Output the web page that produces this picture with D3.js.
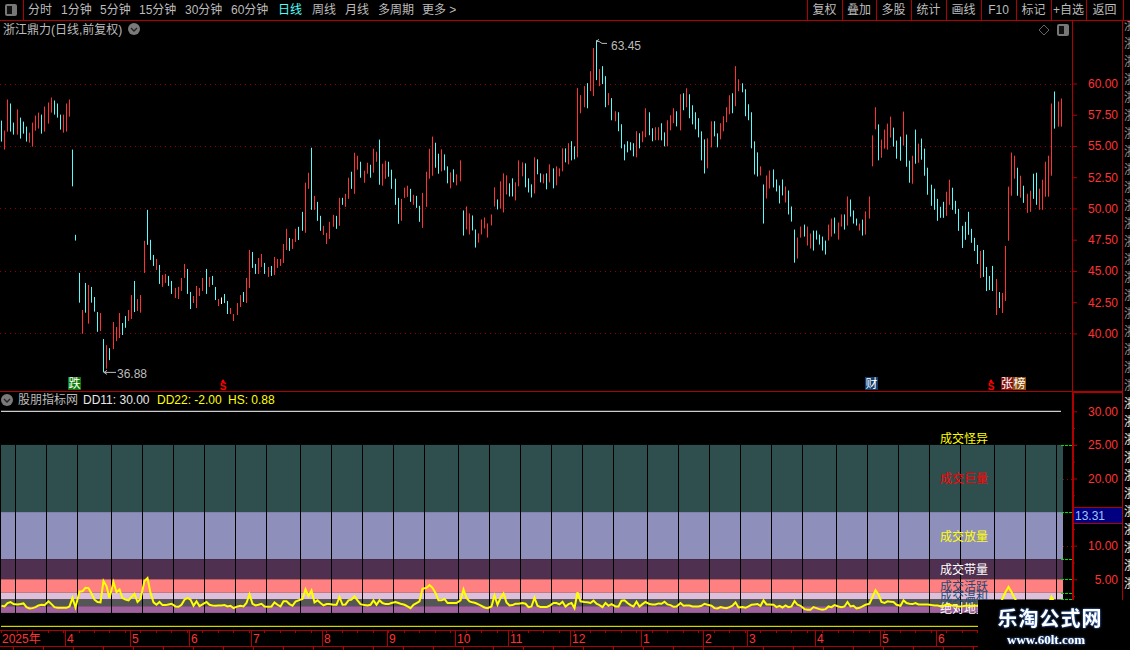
<!DOCTYPE html>
<html>
<head>
<meta charset="utf-8">
<title>浙江鼎力</title>
<script src="https://cdn.jsdelivr.net/npm/d3@7"></script>
<style>
    html, body { margin: 0; padding: 0; background: #000; overflow: hidden; }
    svg { display: block; }
    text { font-family: "Liberation Sans", "Noto Sans CJK SC", sans-serif; font-size: 12px; }
</style>
</head>
<body>
<div id="chart"></div>
<script>
// Bar highs (10 per row)
const barHigh = [
    57.03, 56.23, 58.72, 58.40, 56.87, 57.92, 57.27, 56.95, 56.55, 56.07,
    56.87, 57.43, 57.67, 57.51, 58.16, 58.48, 58.88, 58.64, 58.40, 57.51,
    57.51, 58.40, 58.72, 54.71, 47.89, 44.84, 41.87, 44.04, 43.88, 43.72,
    42.91, 41.71, 41.63, 39.55, 39.06, 38.82, 40.91, 40.51, 41.63, 40.83,
    41.39, 41.87, 43.07, 44.20, 42.75, 43.07, 47.41, 49.89, 47.49, 46.28,
    45.96, 45.48, 44.68, 44.76, 44.60, 44.20, 43.64, 43.72, 44.44, 45.56,
    45.16, 43.32, 42.99, 43.80, 43.64, 44.44, 45.16, 44.52, 44.60, 43.72,
    42.75, 42.88, 43.15, 42.59, 42.03, 41.55, 42.43, 43.07, 43.31, 44.44,
    46.68, 46.52, 45.56, 46.04, 46.36, 45.64, 45.32, 45.40, 46.12, 45.96,
    45.96, 47.16, 48.37, 47.64, 47.56, 48.37, 48.53, 49.73, 52.06, 52.86,
    54.86, 51.01, 50.53, 49.41, 48.61, 48.05, 48.93, 49.49, 49.41, 50.85,
    50.85, 51.17, 52.46, 52.94, 54.46, 54.22, 53.74, 53.02, 53.66, 53.50,
    54.78, 54.54, 55.51, 53.58, 53.82, 53.74, 53.10, 52.38, 50.85, 50.77,
    51.66, 51.82, 51.57, 51.09, 51.01, 50.21, 51.25, 52.94, 54.78, 55.75,
    55.26, 54.38, 54.73, 54.33, 53.37, 52.89, 53.13, 52.73, 53.85, 49.84,
    50.16, 49.60, 49.44, 48.32, 48.00, 49.12, 49.28, 48.80, 49.52, 51.69,
    50.72, 52.17, 52.81, 52.65, 52.01, 52.41, 52.09, 53.85, 53.69, 53.61,
    52.41, 51.93, 54.09, 53.93, 52.81, 52.73, 52.81, 53.53, 53.21, 53.37,
    53.21, 54.81, 54.81, 55.22, 55.38, 54.97, 59.63, 59.07, 59.79, 60.03,
    60.99, 62.84, 63.45, 61.15, 61.39, 60.59, 59.23, 58.83, 57.78, 57.70,
    56.74, 55.13, 55.38, 55.30, 55.22, 56.18, 56.02, 56.18, 58.02, 57.70,
    56.42, 56.50, 56.50, 56.82, 56.09, 57.06, 57.46, 58.02, 57.78, 59.14,
    59.22, 59.62, 59.14, 58.26, 57.70, 57.22, 56.17, 55.53, 55.61, 56.98,
    56.98, 56.01, 56.82, 57.38, 58.10, 59.06, 59.22, 61.39, 60.34, 60.02,
    59.54, 58.34, 57.70, 55.37, 54.49, 53.37, 51.92, 52.64, 53.04, 53.12,
    52.32, 51.84, 52.32, 51.76, 51.44, 50.16, 48.31, 47.67, 48.55, 48.71,
    48.55, 47.99, 48.23, 48.23, 47.91, 47.75, 47.43, 48.71, 49.19, 49.27,
    48.87, 49.52, 49.52, 50.96, 50.72, 49.84, 49.19, 48.79, 49.11, 49.76,
    50.96, 55.85, 58.10, 56.73, 55.51, 56.31, 56.79, 57.35, 56.47, 55.43,
    55.75, 57.75, 55.91, 53.82, 54.22, 56.31, 55.19, 55.59, 54.79, 53.26,
    51.90, 51.58, 50.77, 50.13, 50.53, 51.34, 52.30, 51.66, 50.61, 49.97,
    48.61, 48.93, 49.73, 48.37, 47.65, 47.08, 46.60, 46.68, 45.32, 44.60,
    45.40, 44.36, 43.31, 43.23, 47.00, 51.74, 54.47, 54.22, 53.26, 52.62,
    51.82, 51.18, 51.42, 52.78, 52.86, 51.58, 52.30, 53.74, 54.22, 58.40,
    59.36, 58.56, 58.80
];
// Bar lows
const barLow = [
    55.35, 54.71, 56.15, 56.15, 55.91, 55.91, 55.59, 55.99, 55.35, 55.27,
    54.95, 56.23, 56.39, 55.99, 56.15, 56.79, 57.67, 57.51, 57.27, 56.31,
    56.07, 56.15, 57.35, 51.77, 47.43, 42.46, 39.97, 41.66, 40.78, 42.46,
    41.74, 40.13, 40.19, 36.88, 37.17, 37.86, 38.74, 39.38, 39.63, 39.87,
    40.45, 40.99, 41.15, 41.71, 41.79, 41.66, 44.84, 47.09, 45.88, 45.40,
    45.08, 43.96, 43.72, 44.04, 43.80, 43.16, 42.83, 42.75, 43.40, 44.44,
    43.16, 41.95, 42.43, 42.03, 42.99, 43.40, 43.16, 43.72, 43.88, 42.67,
    42.19, 42.35, 42.43, 41.55, 41.55, 40.99, 41.47, 42.11, 42.51, 42.43,
    43.63, 45.24, 44.76, 44.76, 45.32, 44.76, 44.52, 44.60, 44.68, 45.24,
    45.40, 45.64, 46.68, 46.60, 46.76, 47.32, 47.48, 48.21, 48.05, 51.57,
    49.89, 49.89, 49.01, 48.21, 47.88, 47.16, 47.56, 48.53, 48.37, 48.61,
    50.29, 50.13, 50.77, 51.57, 51.17, 53.10, 52.46, 52.06, 52.78, 52.46,
    52.86, 53.74, 51.90, 51.82, 52.38, 52.54, 51.57, 50.29, 48.77, 49.01,
    50.85, 50.93, 50.53, 50.29, 50.05, 48.93, 48.45, 50.13, 52.38, 52.62,
    53.26, 52.78, 52.97, 53.05, 52.01, 51.61, 52.09, 51.85, 52.17, 47.83,
    48.32, 47.92, 48.24, 46.87, 47.27, 47.92, 48.40, 47.67, 48.64, 50.16,
    49.92, 50.00, 49.68, 51.12, 50.96, 50.96, 50.64, 51.77, 52.57, 51.69,
    51.28, 50.88, 51.20, 52.73, 52.09, 52.01, 51.53, 52.09, 51.61, 51.85,
    52.57, 52.97, 53.69, 53.53, 53.85, 53.93, 54.09, 57.62, 58.10, 58.02,
    59.39, 58.99, 60.27, 59.79, 59.95, 58.10, 58.26, 57.06, 56.98, 56.18,
    54.81, 53.85, 54.49, 54.65, 54.17, 54.09, 54.81, 55.30, 55.70, 55.86,
    55.38, 55.46, 55.46, 55.45, 54.97, 54.97, 56.25, 56.82, 56.57, 56.25,
    57.86, 58.10, 57.22, 56.73, 56.33, 55.69, 53.85, 52.80, 53.21, 54.89,
    55.77, 54.89, 55.53, 56.17, 56.90, 57.54, 57.62, 58.18, 59.38, 59.30,
    57.38, 57.06, 54.81, 52.72, 52.56, 52.64, 48.79, 50.80, 51.60, 51.68,
    51.36, 50.40, 51.04, 50.48, 49.52, 48.95, 45.66, 45.99, 47.67, 47.75,
    47.03, 46.79, 46.63, 47.51, 47.11, 46.63, 46.31, 47.43, 47.75, 47.99,
    47.51, 48.55, 48.31, 48.63, 49.35, 48.79, 48.63, 48.23, 47.83, 47.91,
    49.19, 53.37, 56.33, 53.85, 54.06, 54.79, 54.71, 55.67, 54.95, 53.98,
    53.82, 55.03, 53.34, 52.06, 51.98, 53.58, 53.66, 53.90, 52.62, 51.10,
    50.21, 49.89, 49.01, 49.25, 49.25, 49.41, 50.29, 49.89, 49.57, 48.21,
    46.84, 47.49, 47.89, 47.25, 46.60, 45.56, 44.44, 44.52, 43.39, 43.47,
    43.39, 41.47, 42.03, 41.63, 42.59, 47.41, 51.02, 52.38, 51.02, 50.86,
    50.45, 49.65, 49.73, 50.77, 50.29, 49.89, 49.89, 50.94, 50.94, 52.62,
    56.39, 56.55, 56.55
];
// r = up, c = down, w = flat
const barDir = [
    'crrccrcccr', 'rrrcrrrccc', 'rrrcccrcrc', 'ccrcrcrrrc', 'crrcrrrccc', 'rcrrccrrrr', 'ccrrrrcrcc',
    'rwccrrrrcr', 'rccrrcrcrr', 'rrrcrrccrr', 'crccrrrrcr', 'crrcrrcrrc', 'rrcrrccccr', 'rrcrccrrrr',
    'ccrccrcrrc', 'rrccrrrrrr', 'crrrccrrrc', 'ccrccrcrcr', 'rrcrccrrrc', 'rrcrccrcrc', 'cccccrcrrc',
    'crrccrrrcr', 'crccccccrr', 'ccrrrrcrrc', 'cccccrcrrc', 'cccrcccrrc', 'rrcccccrrc', 'rrcrcccrcr',
    'rrrcrrrrcc', 'crccrcrccc', 'cccccrrccc', 'ccccccrccc', 'crcrrrrrcr', 'crrccrrrrr', 'crr'
].join('');

// HS line
const hsValues = [
    1.06, 0.96, 1.47, 1.62, 1.31, 1.26, 1.31, 1.41, 0.86, 0.66,
    0.71, 0.86, 1.11, 1.21, 1.16, 1.72, 1.31, 0.86, 0.76, 0.76,
    0.76, 0.76, 0.96, 2.22, 0.81, 3.18, 3.23, 3.74, 3.69, 2.88,
    1.97, 1.62, 1.57, 4.75, 3.99, 2.22, 4.60, 3.08, 3.49, 2.22,
    1.97, 1.87, 2.37, 2.83, 1.62, 2.07, 4.75, 5.20, 2.98, 1.57,
    1.21, 1.62, 1.16, 1.16, 1.26, 1.36, 0.96, 0.91, 1.21, 1.97,
    2.22, 1.97, 1.06, 1.72, 1.01, 1.26, 1.62, 1.21, 1.11, 1.06,
    1.11, 1.11, 1.16, 0.96, 1.06, 0.71, 0.96, 1.06, 0.96, 1.47,
    2.78, 1.36, 1.11, 1.21, 1.36, 0.96, 0.91, 0.96, 1.57, 1.21,
    0.96, 1.72, 1.72, 1.31, 1.06, 1.67, 1.87, 2.07, 3.49, 2.47,
    3.33, 1.57, 1.87, 1.47, 1.11, 1.31, 1.31, 1.21, 1.21, 2.37,
    1.21, 1.26, 1.87, 1.97, 2.47, 1.87, 1.31, 1.16, 1.11, 1.21,
    1.87, 1.21, 1.87, 1.47, 1.31, 1.31, 1.47, 1.62, 1.47, 1.31,
    1.21, 0.96, 0.71, 1.21, 1.47, 1.72, 3.59, 3.74, 4.14, 3.74,
    2.98, 1.87, 1.87, 2.07, 1.47, 1.47, 1.47, 1.47, 1.87, 3.49,
    2.22, 1.72, 1.57, 1.47, 1.26, 1.06, 0.81, 0.71, 0.96, 2.58,
    1.21, 2.22, 2.88, 1.57, 1.11, 1.16, 1.36, 1.36, 1.47, 1.36,
    0.86, 0.96, 2.27, 1.06, 0.86, 0.86, 0.86, 1.06, 1.47, 1.47,
    1.26, 1.67, 0.96, 1.31, 1.47, 0.71, 3.08, 1.72, 1.62, 1.57,
    1.47, 1.82, 1.36, 1.16, 0.86, 1.47, 1.06, 1.31, 0.96, 0.96,
    1.82, 1.87, 1.47, 1.16, 0.96, 1.67, 0.96, 1.31, 1.62, 1.31,
    1.26, 1.26, 1.41, 1.36, 1.67, 1.26, 1.16, 0.91, 0.96, 1.47,
    1.06, 1.11, 1.11, 0.96, 0.96, 0.96, 1.06, 1.36, 1.21, 1.06,
    0.71, 0.66, 0.86, 0.76, 0.71, 0.86, 1.06, 1.57, 0.81, 0.86,
    0.76, 0.96, 1.21, 1.26, 1.31, 1.06, 1.87, 1.26, 1.26, 1.21,
    0.86, 1.06, 0.81, 1.11, 0.86, 0.96, 1.77, 1.21, 1.06, 0.56,
    0.46, 0.46, 0.86, 0.71, 0.56, 0.46, 0.56, 0.96, 0.86, 1.16,
    0.96, 0.86, 0.96, 1.62, 0.96, 1.06, 0.66, 0.76, 0.96, 1.21,
    1.36, 2.37, 3.38, 2.73, 1.62, 1.47, 1.72, 1.67, 1.62, 1.21,
    1.06, 1.87, 1.47, 1.36, 1.31, 1.47, 1.26, 1.26, 1.26, 1.26,
    1.16, 1.11, 1.11, 1.01, 1.06, 1.21, 1.21, 1.06, 1.06, 0.96,
    1.00, 1.06, 1.11, 1.00, 1.06, 1.11, 1.20, 1.00, 1.10, 1.30,
    1.20, 1.20, 1.30, 2.10, 3.10, 3.85, 3.10, 2.20, 1.50, 1.20,
    1.10, 1.00, 1.10, 1.20, 1.00, 1.10, 1.20, 1.10, 1.40, 2.40,
    1.50, 1.10, 0.88
];

// bars after which the chart leaves its wider gap (and draws a black line in the bands)
const gapAfter = [4, 14, 24, 35, 45, 55, 65, 75, 85, 96, 106, 116, 126, 136, 147, 157, 167, 177, 187, 197, 208, 218, 228, 238, 248, 258, 269, 279, 289, 299, 309, 320, 330, 340];

const priceTicks = [60, 55, 50, 45, 40];
const priceLabels = [60, 57.5, 55, 52.5, 50, 47.5, 45, 42.5, 40];
const hsTicks = [30, 25, 20, 10, 5];
const hsMinorTicks = [27.5, 22.5, 17.5, 12.5, 7.5, 2.5];

const bandLevels = [25, 15, 8, 5, 3, 2, 1, 0];
const bandColors = ['#2f4f4f', '#8f8fbc', '#503050', '#ff8080', '#dbbfdb', '#555555', '#a0629c'];
const bandNames = ['成交怪异', '成交巨量', '成交放量', '成交带量', '成交活跃', '成交温和', '绝对地量'];
const bandNameColors = ['#ffff00', '#ff0000', '#ffff00', '#ffffff', '#1c4a78', '#1c4a78', '#ffffff'];
const bandNameValues = [25.28, 19.33, 10.7, 5.78, 3.26, 1.77, 0];

const monthBars = [21, 42, 61, 81, 104, 125, 147, 164, 184, 207, 227, 241, 263, 284, 302];
const monthNames = ['4', '5', '6', '7', '8', '9', '10', '11', '12', '1', '2', '3', '4', '5', '6'];

const leftButtons = ['分时', '1分钟', '5分钟', '15分钟', '30分钟', '60分钟', '日线', '周线', '月线', '多周期', '更多 >'];
const leftButtonX = [28, 61, 100, 139, 185, 231, 278, 312, 345, 378, 422];
const rightButtons = ['复权', '叠加', '多股', '统计', '画线', 'F10', '标记', '+自选', '返回'];
const rightEdges = [807, 842, 876, 911, 946, 981, 1016, 1051, 1086, 1123];

const W = 1130, H = 650;
const red = '#ff3232', cyan = '#54fcfc', line = '#b00000', grey = '#bcbcbc';

const svg = d3.select('#chart').append('svg').attr('width', W).attr('height', H)
    .style('background', '#000');

// one slot per bar, each wide gap adds a third of a slot
const slot = i => i + gapAfter.filter(g => g < i).length / 3;
const x = d3.scaleLinear().domain([0, slot(barHigh.length - 1)]).range([1.33, 1061.33]);
const barX = i => Math.floor(x(slot(i)));

const yPrice = d3.scaleLinear().domain([40, 60]).range([333.4, 83.5]);
const yHs = d3.scaleLinear().domain([0, 30]).range([612.9, 411.3]);

// Toolbar
const toolbar = svg.append('g');
toolbar.append('line').attr('x1', 0).attr('x2', W).attr('y1', 20.5).attr('y2', 20.5).attr('stroke', line);
toolbar.append('line').attr('x1', 23.5).attr('x2', 23.5).attr('y1', 0).attr('y2', 20).attr('stroke', line);
toolbar.selectAll('text.left').data(leftButtons).enter().append('text')
    .attr('x', (d, i) => leftButtonX[i])
    .attr('y', 14)
    .attr('fill', d => d === '日线' ? cyan : grey)
    .text(d => d);
toolbar.selectAll('line.edge').data(rightEdges).enter().append('line')
    .attr('x1', d => d + 0.5).attr('x2', d => d + 0.5)
    .attr('y1', 0).attr('y2', 20)
    .attr('stroke', line);
toolbar.selectAll('text.right').data(rightButtons).enter().append('text')
    .attr('x', (d, i) => (rightEdges[i] + rightEdges[i + 1]) / 2)
    .attr('y', 14)
    .attr('text-anchor', 'middle')
    .attr('fill', grey)
    .text(d => d);

function panelIcon(px, py) {
    const g = svg.append('g').attr('transform', `translate(${px},${py})`);
    g.append('rect').attr('x', -6).attr('y', -6).attr('width', 12).attr('height', 12).attr('rx', 2)
        .attr('fill', '#777');
    g.append('rect').attr('x', -4).attr('y', -4).attr('width', 5).attr('height', 8).attr('fill', '#111');
}
function roundIcon(px, py) {
    const g = svg.append('g').attr('transform', `translate(${px},${py})`);
    g.append('circle').attr('r', 6).attr('fill', '#7a7a7a');
    g.append('path').attr('d', 'M-3,-1 L0,2 L3,-1').attr('fill', 'none').attr('stroke', '#222').attr('stroke-width', 1.3);
}
panelIcon(11, 10);
panelIcon(1063, 30);
roundIcon(134, 29);
roundIcon(7, 400);
svg.append('path').attr('d', 'M1044,25 L1049,30 L1044,35 L1039,30 Z').attr('fill', 'none').attr('stroke', '#666');
svg.append('text').attr('x', 3).attr('y', 34).attr('fill', grey).text('浙江鼎力(日线,前复权)');

// Price grid
svg.append('g').selectAll('line').data(priceTicks).enter().append('line')
    .attr('x1', 0).attr('x2', 1072)
    .attr('y1', d => Math.round(yPrice(d)) + 0.5).attr('y2', d => Math.round(yPrice(d)) + 0.5)
    .attr('stroke', '#900000')
    .attr('stroke-dasharray', '1,4');

// Price bars
svg.append('g').selectAll('rect').data(barHigh).enter().append('rect')
    .attr('x', (d, i) => barX(i))
    .attr('width', 1)
    .attr('y', d => yPrice(d))
    .attr('height', (d, i) => yPrice(barLow[i]) - yPrice(d))
    .attr('fill', (d, i) => barDir[i] === 'r' ? red : barDir[i] === 'c' ? cyan : '#ffffff');

// High and low notes
const notes = svg.append('g').attr('fill', grey);
const hiBar = barHigh.indexOf(d3.max(barHigh));
const loBar = barLow.indexOf(d3.min(barLow));
notes.append('path')
    .attr('d', `M${barX(hiBar)},${yPrice(d3.max(barHigh)) + 1} l3,-2 M${barX(hiBar)},${yPrice(d3.max(barHigh)) + 1} h3 l3,2 h5`)
    .attr('fill', 'none').attr('stroke', grey);
notes.append('text').attr('x', 611).attr('y', 50).text(d3.format('.2f')(d3.max(barHigh)));
notes.append('path')
    .attr('d', `M${barX(loBar) + 1},${yPrice(d3.min(barLow))} h12 M${barX(loBar) + 1},${yPrice(d3.min(barLow))} l3,-2 M${barX(loBar) + 1},${yPrice(d3.min(barLow))} l3,2`)
    .attr('fill', 'none').attr('stroke', grey);
notes.append('text').attr('x', 117).attr('y', 378).text(d3.format('.2f')(d3.min(barLow)));

// Event markers
function tag(tx, w, color, label) {
    svg.append('rect').attr('x', tx).attr('y', 377).attr('width', w).attr('height', 13).attr('fill', color);
    svg.append('text').attr('x', tx + w / 2).attr('y', 388).attr('text-anchor', 'middle')
        .attr('fill', '#fff').text(label);
}
tag(68, 13, '#0a7a0a', '跌');
tag(865, 13, '#0f3e6e', '财');
tag(1001, 12, '#8a0f0f', '张');
tag(1013, 13, '#8a5010', '榜');
[223, 991].forEach(sx => {
    svg.append('path').attr('d', `M${sx - 2},382 L${sx},379 L${sx + 2},382 Z`).attr('fill', '#ff0000');
    svg.append('text').attr('x', sx).attr('y', 390).attr('text-anchor', 'middle')
        .attr('fill', '#ff0000').style('font-weight', 'bold').style('font-size', '10px').text('S');
});

// Panel split
svg.append('line').attr('x1', 0).attr('x2', 1072).attr('y1', 391.5).attr('y2', 391.5).attr('stroke', line);
svg.append('line').attr('x1', 1072).attr('x2', 1123).attr('y1', 392).attr('y2', 392).attr('stroke', line).attr('stroke-width', 2);

// Indicator header
svg.append('text').attr('x', 18).attr('y', 404).attr('fill', grey).text('股朋指标网');
svg.append('text').attr('x', 83).attr('y', 404).attr('fill', '#e8e8e8').text('DD11: 30.00');
svg.append('text').attr('x', 157).attr('y', 404).attr('fill', '#ffff00').text('DD22: -2.00');
svg.append('text').attr('x', 228).attr('y', 404).attr('fill', '#ffff00').text('HS: 0.88');

// Indicator bands
svg.append('g').selectAll('rect').data(bandColors).enter().append('rect')
    .attr('x', 1)
    .attr('width', 1062)
    .attr('y', (d, i) => yHs(bandLevels[i]))
    .attr('height', (d, i) => yHs(bandLevels[i + 1]) - yHs(bandLevels[i]))
    .attr('fill', d => d);

svg.append('g').selectAll('rect').data(gapAfter).enter().append('rect')
    .attr('x', d => barX(d) + 2)
    .attr('width', 1)
    .attr('y', yHs(25))
    .attr('height', yHs(0) - yHs(25))
    .attr('fill', '#000');

// band edge marks next to the axis
svg.append('g').selectAll('line').data(bandLevels).enter().append('line')
    .attr('x1', 1061).attr('x2', 1072)
    .attr('y1', d => Math.round(yHs(d)) + 0.5).attr('y2', d => Math.round(yHs(d)) + 0.5)
    .attr('stroke', '#00e000')
    .attr('stroke-dasharray', '3,1');

svg.append('g').selectAll('line').data([20, 10]).enter().append('line')
    .attr('x1', 1063).attr('x2', 1072)
    .attr('y1', d => Math.round(yHs(d)) + 0.5).attr('y2', d => Math.round(yHs(d)) + 0.5)
    .attr('stroke', '#a00000')
    .attr('stroke-dasharray', '1,3');

svg.append('g').selectAll('text').data(bandNames).enter().append('text')
    .attr('x', 940)
    .attr('y', (d, i) => yHs(bandNameValues[i]))
    .attr('fill', (d, i) => bandNameColors[i])
    .text(d => d);

// DD11 / DD22 lines
svg.append('line').attr('x1', 1).attr('x2', 1061).attr('y1', yHs(30)).attr('y2', yHs(30)).attr('stroke', '#fff');
svg.append('line').attr('x1', 1).attr('x2', 1061).attr('y1', yHs(-2)).attr('y2', yHs(-2)).attr('stroke', '#ffff00');

// HS line
svg.append('path')
    .datum(hsValues)
    .attr('fill', 'none')
    .attr('stroke', '#ffff00')
    .attr('stroke-width', 2)
    .attr('d', d3.line().x((d, i) => barX(i) + 0.5).y(d => yHs(d)));

// Right axes
function styleAxis(g) {
    g.select('.domain').remove();
    g.selectAll('line').attr('stroke', line);
    g.selectAll('text')
        .attr('x', 45)
        .attr('text-anchor', 'end')
        .attr('fill', red)
        .style('font-family', '"Liberation Sans", sans-serif')
        .style('font-size', '12px');
}
svg.append('g').attr('transform', 'translate(1073,0)')
    .call(d3.axisRight(yPrice).tickValues(priceLabels).tickSize(4).tickFormat(d3.format('.2f')))
    .call(styleAxis);
svg.append('g').attr('transform', 'translate(1073,0)')
    .call(d3.axisRight(yHs).tickValues(hsTicks).tickSize(4).tickFormat(d3.format('.2f')))
    .call(styleAxis);
svg.append('g').attr('transform', 'translate(1073,0)')
    .call(d3.axisRight(yHs).tickValues(hsMinorTicks).tickSize(2).tickFormat(''))
    .call(styleAxis);

svg.append('line').attr('x1', 1072.5).attr('x2', 1072.5).attr('y1', 21).attr('y2', 391).attr('stroke', line);
svg.append('line').attr('x1', 1073).attr('x2', 1073).attr('y1', 392).attr('y2', 630).attr('stroke', line).attr('stroke-width', 2);
svg.append('line').attr('x1', 1122.5).attr('x2', 1122.5).attr('y1', 21).attr('y2', H).attr('stroke', line);

// crosshair value box
svg.append('rect').attr('x', 1073.5).attr('y', 507.5).attr('width', 49).attr('height', 16)
    .attr('fill', '#000080').attr('stroke', line);
svg.append('text').attr('x', 1075).attr('y', 520).attr('fill', '#9fc4ff').text('13.31');

// Side list, cut off by the window edge
const sideRows = d3.range(30, 600, 18);
svg.append('defs').append('clipPath').attr('id', 'side-clip')
    .append('rect').attr('x', 1124).attr('y', 21).attr('width', 6).attr('height', 629);
svg.append('g').attr('clip-path', 'url(#side-clip)')
    .selectAll('text').data(sideRows).enter().append('text')
    .attr('x', 1124)
    .attr('y', d => d)
    .attr('fill', d => d > 400 ? '#e0e0e0' : '#8c8c8c')
    .text('浙');

// Date axis
const dateAxis = svg.append('g');
dateAxis.append('line').attr('x1', 0).attr('x2', 1073).attr('y1', 630.5).attr('y2', 630.5).attr('stroke', line);
dateAxis.append('line').attr('x1', 0).attr('x2', 1073).attr('y1', 646.5).attr('y2', 646.5).attr('stroke', line);
dateAxis.selectAll('line.week').data(d3.range(0, barHigh.length, 5)).enter().append('line')
    .attr('x1', d => barX(d) + 0.5).attr('x2', d => barX(d) + 0.5)
    .attr('y1', 631).attr('y2', 633)
    .attr('stroke', line);
dateAxis.selectAll('line.month').data(monthBars).enter().append('line')
    .attr('x1', d => barX(d) - 0.5).attr('x2', d => barX(d) - 0.5)
    .attr('y1', 631).attr('y2', 646)
    .attr('stroke', line);
dateAxis.selectAll('text.month').data(monthNames).enter().append('text')
    .attr('x', (d, i) => barX(monthBars[i]) + 1)
    .attr('y', 643)
    .attr('fill', red)
    .text(d => d);
dateAxis.append('text').attr('x', 2).attr('y', 643).attr('fill', red).text('2025年');
dateAxis.selectAll('line.foot').data(d3.range(13, 1073, 30)).enter().append('line')
    .attr('x1', d => d + 0.5).attr('x2', d => d + 0.5)
    .attr('y1', 647).attr('y2', H)
    .attr('stroke', line);

// Watermark block sits over everything in the corner
svg.append('rect').attr('x', 978).attr('y', 600).attr('width', 152).attr('height', 50).attr('fill', '#000');
const wm = svg.append('g').attr('fill', '#fff').style('filter', 'drop-shadow(0 0 1px #4a8cff)');
wm.append('text').attr('x', 1050).attr('y', 626).attr('text-anchor', 'middle')
    .style('font-family', '"Noto Sans CJK SC", sans-serif')
    .style('font-size', '20px').style('font-weight', 'bold').style('letter-spacing', '1px')
    .text('乐淘公式网');
wm.append('text').attr('x', 1046).attr('y', 644).attr('text-anchor', 'middle')
    .style('font-family', '"Liberation Serif", serif')
    .style('font-size', '13px').style('font-weight', 'bold')
    .text('www.60lt.com');
</script>
</body>
</html>
